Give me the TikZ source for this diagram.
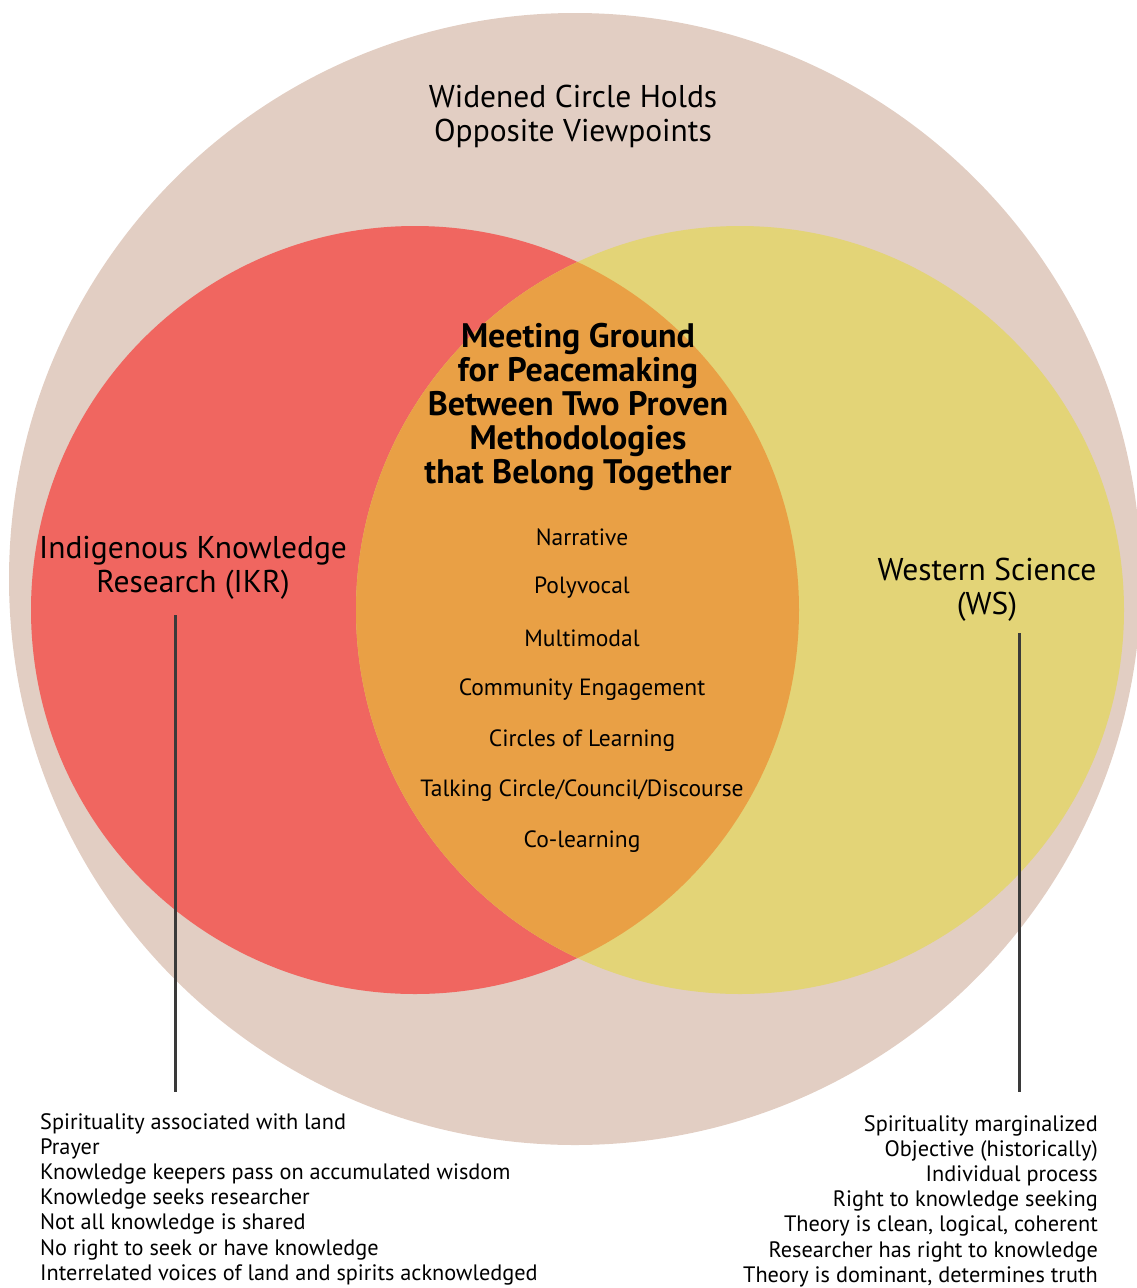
\documentclass[tikz,border=0pt]{standalone}
\usepackage{fontspec}
\setmainfont{PT Sans}
\definecolor{widebeige}{RGB}{226,206,195}
\definecolor{ikrred}{RGB}{240,102,96}
\definecolor{wsyellow}{RGB}{227,212,119}
\definecolor{meetorange}{RGB}{233,160,69}
\definecolor{stemgray}{RGB}{58,58,58}
\tikzset{
  bigtext/.style={inner sep=0pt,align=center,font=\fontsize{31.5}{34}\selectfont},
  headtext/.style={inner sep=0pt,align=center,font=\fontsize{34}{34}\selectfont\bfseries},
  itemtext/.style={inner sep=0pt,font=\fontsize{23.5}{25}\selectfont},
  listtext/.style={inner sep=0pt,font=\fontsize{22.3}{25.2}\selectfont},
  stem/.style={stemgray,line width=3pt}
}
\begin{document}
\begin{tikzpicture}[x=1pt,y=-1pt]
\useasboundingbox (0,0) rectangle (1137,1288);
\fill[widebeige] (575,579) circle (566pt);
\fill[ikrred] (415,610) circle (384pt);
\fill[wsyellow] (740,610) circle (384pt);
\begin{scope}
\clip (415,610) circle (384pt);
\fill[meetorange] (740,610) circle (384pt);
\end{scope}
\node[bigtext] (widened) at (573,116) {Widened Circle Holds\\Opposite Viewpoints};
\node[headtext] (meeting) at (578,407) {Meeting Ground\\for Peacemaking\\Between Two Proven\\Methodologies\\that Belong Together};
\foreach \t [count=\i from 0] in {Narrative,Polyvocal,Multimodal,Community Engagement,Circles of Learning,Talking Circle/Council/Discourse,Co-learning}
  \node[itemtext] (way\i) at (582,537+50.8*\i) {\t};
\node[bigtext] (ikr) at (193,568) {Indigenous Knowledge\\Research (IKR)};
\node[bigtext] (ws) at (987,590) {Western Science\\(WS)};
\node[listtext,anchor=north west,align=left] (ikrlist) at (40,1113)
  {Spirituality associated with land\\Prayer\\Knowledge keepers pass on accumulated wisdom\\Knowledge seeks researcher\\Not all knowledge is shared\\No right to seek or have knowledge\\Interrelated voices of land and spirits acknowledged};
\node[listtext,anchor=north east,align=right] (wslist) at (1098,1115)
  {Spirituality marginalized\\Objective (historically)\\Individual process\\Right to knowledge seeking\\Theory is clean, logical, coherent\\Researcher has right to knowledge\\Theory is dominant, determines truth};
\coordinate (ikrtop) at (175,615);
\coordinate (ikrend) at (175,1092);
\coordinate (wstop) at (1019,633);
\coordinate (wsend) at (1019,1092);
\draw[stem] (ikrtop) -- (ikrend);
\draw[stem] (wstop) -- (wsend);
\end{tikzpicture}
\end{document}
